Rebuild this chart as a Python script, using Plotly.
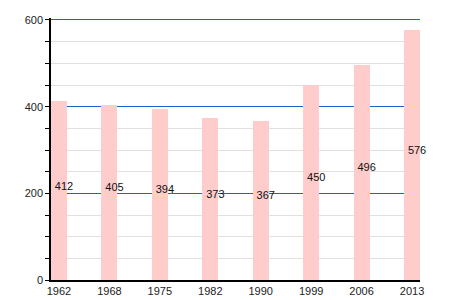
import plotly.graph_objects as go

years = ["1962", "1968", "1975", "1982", "1990", "1999", "2006", "2013"]
values = [412, 405, 394, 373, 367, 450, 496, 576]

idx = list(range(len(years)))

fig = go.Figure()
fig.add_trace(go.Bar(
    x=idx, y=values, marker_color="#ffcccc", marker_line_width=0,
    width=0.316, hoverinfo="skip",
))
fig.add_trace(go.Scatter(
    x=[i + 0.1 for i in idx], y=[v / 2 + 9 for v in values],
    text=[str(v) for v in values], mode="text", textposition="middle center",
    textfont=dict(size=11, color="#111"), hoverinfo="skip", cliponaxis=False,
))

fig.update_layout(
    width=450, height=300,
    margin=dict(l=51, r=30, t=18, b=20),
    paper_bgcolor="white", plot_bgcolor="white",
    showlegend=False,
    font=dict(family="Liberation Sans, Arial, sans-serif", size=11, color="#222"),
    bargap=0,
)
fig.update_xaxes(
    range=[-0.158, 7.158], showline=True, linecolor="black", linewidth=1.5,
    tickmode="array", tickvals=idx, ticktext=years,
    ticks="", showgrid=False, zeroline=False, automargin=False,
    tickfont=dict(size=11, color="#222"),
)
fig.update_yaxes(
    range=[0, 604.6], tickvals=[0, 200, 400, 600], showline=True, linecolor="black", linewidth=1.5,
    ticks="outside", ticklen=4, tickcolor="black", automargin=False,
    showgrid=True, gridcolor="#1466cc", gridwidth=1.3, zeroline=False,
    tickfont=dict(size=11, color="#222"),
    minor=dict(tickvals=[50, 100, 150, 250, 300, 350, 450, 500, 550], showgrid=True,
               gridcolor="#e0e0e0", ticks="outside", ticklen=4, tickcolor="black"),
)

fig.write_html("out.html")
